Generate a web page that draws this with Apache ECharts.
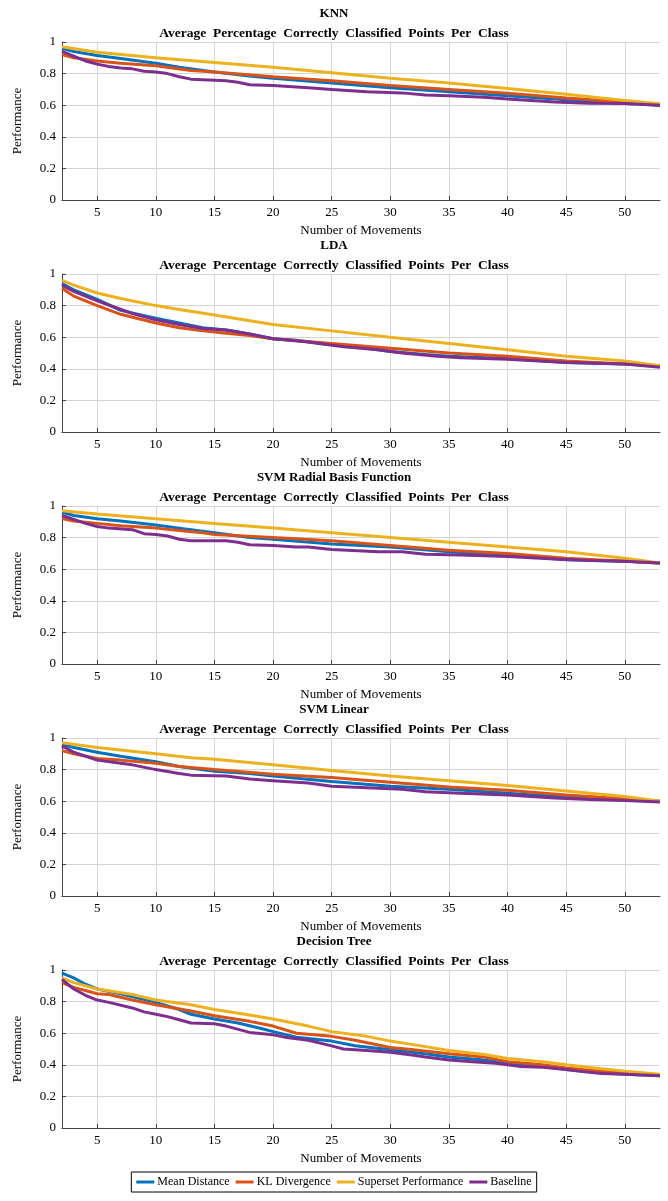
<!DOCTYPE html>
<html>
<head>
<meta charset="utf-8">
<script src="https://cdn.jsdelivr.net/npm/echarts@6/dist/echarts.min.js"></script>
<style>
  html, body { margin: 0; padding: 0; background: #fff; }
  #chart { width: 668px; height: 1201px; }
</style>
</head>
<body>
<div id="chart"></div>
<script>
// panel titles
const models = ['KNN', 'LDA', 'SVM Radial Basis Function', 'SVM Linear', 'Decision Tree'];
const subTitle = 'Average  Percentage  Correctly  Classified  Points  Per  Class';
const seriesNames = ['Mean Distance', 'KL Divergence', 'Superset Performance', 'Baseline'];
const xTicks = [5, 10, 15, 20, 25, 30, 35, 40, 45, 50];

// KNN
const knnMean = [[2,.96],[3,.94],[5,.915],[7,.895],[10,.865],[12,.84],[15,.81],[18,.785],[20,.77],[25,.74],[30,.71],[35,.685],[40,.66],[45,.635],[50,.61],[53,.60]];
const knnKL = [[2,.92],[3,.90],[5,.88],[7,.865],[10,.85],[13,.82],[15,.81],[20,.78],[25,.755],[30,.725],[35,.70],[40,.675],[45,.645],[50,.62],[53,.60]];
const knnSuperset = [[2,.97],[5,.935],[10,.90],[15,.87],[20,.84],[25,.805],[30,.77],[35,.74],[40,.705],[45,.67],[50,.63],[53,.61]];
const knnBase = [[2,.94],[3,.91],[4,.88],[5,.86],[6,.845],[7,.835],[8,.83],[9,.815],[10,.81],[11,.80],[12,.78],[13,.765],[16,.755],[17,.745],[18,.73],[20,.725],[22,.715],[23,.71],[25,.70],[28,.685],[31,.678],[33,.665],[35,.66],[38,.65],[40,.64],[44,.62],[47,.613],[50,.61],[53,.60]];

// LDA
const ldaMean = [[2,.94],[3,.90],[5,.84],[7,.77],[10,.72],[12,.69],[14,.66],[16,.645],[18,.62],[20,.59],[22,.58],[24,.56],[27,.54],[30,.51],[33,.49],[35,.48],[40,.465],[45,.44],[50,.43],[53,.42]];
const ldaKL = [[2,.91],[3,.86],[5,.80],[7,.745],[10,.69],[12,.66],[14,.64],[16,.625],[18,.61],[20,.59],[25,.56],[30,.53],[35,.50],[40,.48],[45,.45],[50,.43],[53,.42]];
const ldaSuperset = [[2,.96],[3,.93],[5,.88],[7,.845],[10,.80],[12,.775],[15,.74],[20,.68],[25,.64],[30,.60],[35,.56],[40,.52],[45,.48],[50,.45],[53,.42]];
const ldaBase = [[2,.93],[3,.89],[5,.83],[8,.75],[10,.71],[12,.68],[14,.655],[16,.645],[18,.62],[20,.59],[23,.57],[26,.54],[29,.52],[31,.50],[34,.48],[36,.47],[40,.46],[45,.44],[50,.43],[53,.41]];

// SVM radial basis function
const rbfMean = [[2,.96],[3,.94],[5,.92],[7,.905],[10,.88],[12,.86],[15,.83],[18,.80],[20,.79],[25,.76],[30,.74],[35,.71],[40,.69],[45,.66],[50,.65],[53,.64]];
const rbfKL = [[2,.92],[3,.905],[5,.89],[7,.875],[10,.86],[12,.845],[14,.83],[15,.82],[20,.80],[25,.78],[30,.75],[35,.72],[40,.70],[45,.67],[50,.65],[53,.64]];
const rbfSuperset = [[2,.97],[5,.95],[10,.92],[15,.89],[20,.86],[25,.83],[30,.80],[35,.77],[40,.74],[45,.71],[50,.67],[53,.64]];
const rbfBase = [[2,.94],[3,.915],[4,.89],[5,.87],[6,.86],[8,.85],[9,.825],[10,.82],[11,.81],[12,.79],[13,.78],[16,.78],[17,.77],[18,.755],[20,.75],[22,.74],[23,.74],[25,.725],[29,.71],[31,.71],[33,.695],[36,.69],[40,.68],[44,.665],[47,.655],[50,.65],[53,.64]];

// SVM linear
const linMean = [[2,.96],[3,.94],[5,.91],[7,.885],[10,.85],[12,.82],[15,.79],[18,.775],[20,.76],[25,.725],[30,.695],[35,.675],[40,.65],[45,.625],[50,.61],[53,.60]];
const linKL = [[2,.92],[3,.90],[5,.87],[7,.86],[10,.84],[12,.82],[15,.80],[20,.77],[25,.75],[30,.72],[35,.69],[40,.67],[45,.64],[50,.615],[53,.60]];
const linSuperset = [[2,.97],[5,.94],[10,.90],[13,.875],[15,.865],[20,.83],[25,.795],[30,.76],[35,.73],[40,.70],[45,.665],[50,.63],[53,.60]];
const linBase = [[2,.95],[3,.91],[5,.86],[7,.84],[8,.83],[10,.80],[12,.775],[13,.765],[16,.76],[18,.74],[20,.73],[23,.715],[25,.695],[28,.685],[31,.675],[33,.66],[36,.65],[40,.64],[44,.62],[47,.61],[50,.605],[53,.595]];

// Decision tree
const dtMean = [[2,.98],[3,.95],[4,.91],[5,.88],[7,.85],[10,.795],[12,.75],[13,.72],[15,.69],[17,.665],[19,.63],[20,.61],[22,.575],[25,.55],[27,.52],[30,.495],[33,.47],[35,.45],[38,.43],[40,.41],[43,.39],[45,.37],[48,.35],[50,.34],[53,.33]];
const dtKL = [[2,.92],[3,.89],[4,.87],[5,.85],[6,.845],[8,.81],[10,.78],[13,.74],[15,.71],[18,.675],[20,.645],[22,.60],[25,.58],[27,.555],[30,.51],[32,.495],[35,.47],[38,.45],[40,.42],[43,.40],[45,.38],[48,.36],[50,.35],[53,.335]];
const dtSuperset = [[2,.95],[3,.92],[5,.88],[8,.845],[10,.81],[13,.78],[15,.75],[18,.715],[20,.69],[23,.645],[25,.61],[28,.58],[30,.55],[33,.515],[35,.49],[38,.465],[40,.44],[43,.42],[45,.40],[48,.375],[50,.36],[53,.34]];
const dtBase = [[2,.94],[3,.88],[4,.84],[5,.81],[6,.795],[8,.76],[9,.735],[10,.72],[11,.705],[12,.685],[13,.665],[15,.66],[16,.645],[18,.605],[20,.59],[21,.575],[23,.555],[25,.52],[26,.50],[28,.49],[30,.48],[32,.46],[33,.45],[35,.43],[37,.42],[39,.41],[41,.39],[43,.385],[45,.37],[46,.36],[48,.345],[50,.34],[53,.33]];

const panels = [
    [knnMean, knnKL, knnSuperset, knnBase],
    [ldaMean, ldaKL, ldaSuperset, ldaBase],
    [rbfMean, rbfKL, rbfSuperset, rbfBase],
    [linMean, linKL, linSuperset, linBase],
    [dtMean, dtKL, dtSuperset, dtBase]
];

const colors = ['#0072BD', '#D95319', '#EDB120', '#7E2F8E'];
const font = '"Liberation Serif", "DejaVu Serif", serif';

const firstTop = 42;
const step = 232;
const plotH = 158;

const titles = [];
const grids = [];
const xAxes = [];
const yAxes = [];
const series = [];

models.forEach((m, i) => {
    const top = firstTop + step * i;
    titles.push({
        text: m, left: 'center', top: top - 40,
        textStyle: { fontFamily: font, fontSize: 13, fontWeight: 'bold', color: '#000' }
    });
    titles.push({
        text: subTitle, left: 'center', top: top - 20,
        textStyle: { fontFamily: font, fontSize: 13.5, fontWeight: 'bold', color: '#000' }
    });
    grids.push({ left: 62, right: 8, top: top, height: plotH });
    xAxes.push({
        type: 'value', gridIndex: i, min: 2, max: 53,
        name: 'Number of Movements', nameLocation: 'middle', nameGap: 24,
        nameTextStyle: { fontFamily: font, fontSize: 13, color: '#000' },
        axisLine: { onZero: false, lineStyle: { color: '#444', width: 1 } },
        axisTick: { inside: true, length: 4, customValues: xTicks, lineStyle: { color: '#444' } },
        axisLabel: { customValues: xTicks, fontFamily: font, fontSize: 13, color: '#000', margin: 6 },
        splitLine: { show: true, lineStyle: { color: '#d4d4d4', width: 1 } }
    });
    yAxes.push({
        type: 'value', gridIndex: i, min: 0, max: 1, interval: 0.2,
        name: 'Performance', nameLocation: 'middle', nameGap: 38,
        nameTextStyle: { fontFamily: font, fontSize: 13, color: '#000' },
        axisLine: { show: true, lineStyle: { color: '#444', width: 1 } },
        axisTick: { show: true, inside: true, length: 4, lineStyle: { color: '#444' } },
        axisLabel: { fontFamily: font, fontSize: 13, color: '#000', margin: 6 },
        splitLine: { show: true, lineStyle: { color: '#d4d4d4', width: 1 } }
    });
    panels[i].forEach((d, k) => {
        series.push({
            name: seriesNames[k], type: 'line', xAxisIndex: i, yAxisIndex: i,
            data: d, showSymbol: false, symbol: 'none',
            lineStyle: { color: colors[k], width: 3 },
            itemStyle: { color: colors[k] },
            z: 2 + k
        });
    });
});

const chart = echarts.init(document.getElementById('chart'), null, { renderer: 'canvas' });
chart.setOption({
    animation: false,
    color: colors,
    title: titles,
    grid: grids,
    xAxis: xAxes,
    yAxis: yAxes,
    legend: {
        data: seriesNames,
        left: 'center', top: 1172,
        icon: 'rect', itemWidth: 18, itemHeight: 3, itemGap: 6,
        borderColor: '#000', borderWidth: 1, padding: [4, 5],
        textStyle: { fontFamily: font, fontSize: 12, color: '#000', padding: [0, 0, 0, -2] }
    },
    series: series
});
</script>
</body>
</html>
